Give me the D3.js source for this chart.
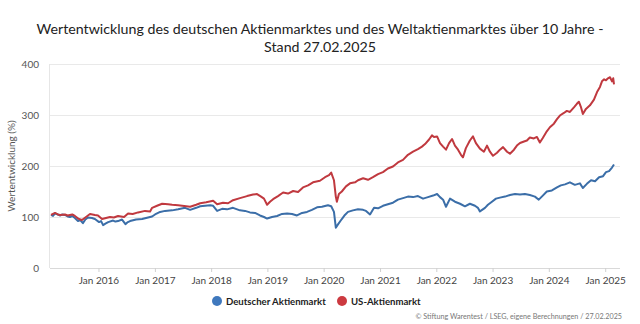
<!DOCTYPE html>
<html><head><meta charset="utf-8">
<script src="https://cdn.jsdelivr.net/npm/d3@7"></script>
<style>body{margin:0;background:#fff} svg{display:block}</style>
</head><body>
<svg id="chart" width="640" height="324"></svg>
<script>
const titleLines = ["Wertentwicklung des deutschen Aktienmarktes und des Weltaktienmarktes über 10 Jahre -", "Stand 27.02.2025"];
const yAxisLabel = "Wertentwicklung (%)";
const seriesNames = ["Deutscher Aktienmarkt", "US-Aktienmarkt"];
const seriesColors = ["#3b6ea8", "#c0393f"];
const yTicks = [0, 100, 200, 300, 400];
const xTickDates = ["2016-01-01","2017-01-01","2018-01-01","2019-01-01","2020-01-01","2021-01-01","2022-01-01","2023-01-01","2024-01-01","2025-01-01"];
const xTickLabels = ["Jan 2016","Jan 2017","Jan 2018","Jan 2019","Jan 2020","Jan 2021","Jan 2022","Jan 2023","Jan 2024","Jan 2025"];
const credit = "© Stiftung Warentest / LSEG, eigene Berechnungen / 27.02.2025";

const deData = [
["2015-02-27",104],["2015-03-12",102],["2015-03-25",107],["2015-04-12",105],["2015-04-27",103],["2015-05-12",105],["2015-05-29",104],["2015-06-15",101],["2015-06-30",100],["2015-07-15",102],["2015-08-01",98],["2015-08-21",92],["2015-09-05",94],["2015-09-22",88],["2015-10-08",95],["2015-10-25",99],["2015-11-20",98],["2015-12-09",96],["2016-01-05",90],["2016-01-18",92],["2016-01-31",84],["2016-02-15",87],["2016-03-04",90],["2016-04-05",93],["2016-04-20",91],["2016-05-07",92],["2016-06-02",95],["2016-06-24",86],["2016-07-10",90],["2016-07-24",92],["2016-09-01",95],["2016-10-10",96],["2016-11-18",99],["2016-12-14",101],["2017-01-02",105],["2017-02-04",110],["2017-03-08",112],["2017-04-23",113],["2017-06-01",115],["2017-07-16",118],["2017-08-18",114],["2017-09-26",118],["2017-10-22",121],["2017-11-23",122],["2017-12-26",123],["2018-01-14",122],["2018-02-09",112],["2018-03-13",116],["2018-04-14",115],["2018-05-23",118],["2018-07-07",113],["2018-08-09",112],["2018-09-10",109],["2018-10-13",108],["2018-11-14",103],["2018-12-10",100],["2018-12-30",97],["2019-01-31",100],["2019-03-05",102],["2019-04-06",106],["2019-05-09",107],["2019-06-10",106],["2019-07-12",103],["2019-08-14",108],["2019-09-15",110],["2019-10-17",114],["2019-11-19",119],["2019-12-21",120],["2020-01-29",123],["2020-02-19",121],["2020-03-08",110],["2020-03-20",79],["2020-04-02",85],["2020-04-28",96],["2020-05-18",104],["2020-06-07",110],["2020-07-09",113],["2020-08-11",115],["2020-09-13",114],["2020-10-02",112],["2020-10-28",105],["2020-11-23",118],["2020-12-19",117],["2021-01-20",122],["2021-02-21",125],["2021-03-26",128],["2021-04-27",134],["2021-05-30",137],["2021-07-01",140],["2021-08-03",139],["2021-09-04",141],["2021-10-07",136],["2021-11-08",139],["2021-12-11",142],["2022-01-06",145],["2022-01-25",139],["2022-02-14",134],["2022-03-05",120],["2022-03-31",136],["2022-05-02",130],["2022-06-04",126],["2022-07-06",121],["2022-08-07",126],["2022-09-09",122],["2022-09-28",118],["2022-10-11",111],["2022-11-13",118],["2022-12-02",124],["2022-12-28",130],["2023-01-23",136],["2023-02-18",138],["2023-03-23",140],["2023-04-24",143],["2023-05-27",145],["2023-06-28",144],["2023-07-30",145],["2023-08-31",143],["2023-10-03",140],["2023-10-28",134],["2023-11-23",142],["2023-12-19",150],["2024-01-21",152],["2024-02-23",158],["2024-03-19",162],["2024-04-15",164],["2024-05-17",168],["2024-06-18",163],["2024-07-21",166],["2024-08-09",157],["2024-09-04",165],["2024-10-01",172],["2024-10-27",170],["2024-11-22",178],["2024-12-18",180],["2025-01-06",188],["2025-01-26",190],["2025-02-14",197],["2025-02-27",203]
];

const usData = [
["2015-02-27",104],["2015-03-12",106],["2015-03-25",108],["2015-04-12",105],["2015-04-27",104],["2015-05-29",105],["2015-06-15",103],["2015-06-30",104],["2015-07-15",105],["2015-08-01",102],["2015-08-27",96],["2015-09-16",94],["2015-10-12",100],["2015-11-07",106],["2015-12-09",104],["2015-12-29",103],["2016-01-24",96],["2016-02-19",98],["2016-03-16",100],["2016-04-10",99],["2016-05-07",102],["2016-06-15",100],["2016-07-11",107],["2016-08-10",106],["2016-09-14",109],["2016-10-29",112],["2016-12-01",111],["2016-12-14",118],["2017-01-15",122],["2017-02-17",126],["2017-03-28",125],["2017-04-23",124],["2017-06-01",123],["2017-06-27",122],["2017-08-18",120],["2017-09-26",124],["2017-10-22",127],["2017-11-30",129],["2018-01-14",132],["2018-02-09",125],["2018-03-19",128],["2018-04-21",127],["2018-05-23",133],["2018-07-07",137],["2018-08-22",141],["2018-09-30",144],["2018-10-26",145],["2018-11-21",140],["2018-12-10",136],["2018-12-30",124],["2019-01-18",130],["2019-02-07",135],["2019-03-11",141],["2019-04-13",148],["2019-05-15",146],["2019-06-17",151],["2019-07-19",149],["2019-08-20",158],["2019-09-22",162],["2019-10-24",168],["2019-12-08",171],["2020-01-10",178],["2020-02-05",182],["2020-02-19",187],["2020-03-08",172],["2020-03-20",140],["2020-03-27",130],["2020-04-09",145],["2020-04-28",150],["2020-05-25",160],["2020-06-20",166],["2020-07-23",168],["2020-08-11",172],["2020-09-13",176],["2020-10-15",173],["2020-11-16",178],["2020-12-19",184],["2021-01-20",188],["2021-02-21",195],["2021-03-26",199],["2021-04-27",207],["2021-05-30",212],["2021-07-01",222],["2021-08-03",228],["2021-09-04",233],["2021-09-30",238],["2021-10-20",243],["2021-11-15",252],["2021-12-04",260],["2021-12-17",257],["2022-01-06",258],["2022-01-25",245],["2022-02-14",238],["2022-03-05",232],["2022-03-25",245],["2022-04-13",253],["2022-05-02",240],["2022-05-22",232],["2022-06-10",222],["2022-06-23",217],["2022-07-12",235],["2022-08-07",250],["2022-08-27",258],["2022-09-15",245],["2022-10-11",234],["2022-11-06",228],["2022-11-26",240],["2022-12-15",228],["2023-01-04",220],["2023-01-30",226],["2023-02-18",232],["2023-03-10",237],["2023-04-05",228],["2023-04-24",224],["2023-05-20",232],["2023-06-08",240],["2023-06-28",245],["2023-07-24",248],["2023-08-12",250],["2023-08-31",256],["2023-09-26",254],["2023-10-16",257],["2023-11-04",246],["2023-11-23",255],["2023-12-19",268],["2024-01-08",276],["2024-02-03",283],["2024-02-23",292],["2024-03-13",299],["2024-04-08",304],["2024-04-27",308],["2024-05-17",306],["2024-06-12",315],["2024-07-01",322],["2024-07-14",326],["2024-07-27",316],["2024-08-09",302],["2024-08-29",312],["2024-09-24",319],["2024-10-20",330],["2024-11-09",345],["2024-11-28",355],["2024-12-11",366],["2024-12-25",370],["2025-01-06",368],["2025-01-19",372],["2025-02-01",374],["2025-02-14",366],["2025-02-22",372],["2025-02-27",360]
];

const svg = d3.select("#chart");
const parse = d3.timeParse("%Y-%m-%d");
const x = d3.scaleTime().domain([parse("2015-02-27"), parse("2025-02-27")]).range([51, 614]);
const y = d3.scaleLinear().domain([0, 400]).range([268, 64]);
const plotLeft = 50, plotRight = 620;
const font = "Lato, 'Open Sans', sans-serif";

svg.append("g").selectAll("line").data(yTicks).join("line")
  .attr("x1", plotLeft).attr("x2", plotRight)
  .attr("y1", d => y(d) + 0.5).attr("y2", d => y(d) + 0.5)
  .attr("stroke", d => d === 0 ? "#d9d9d9" : "#e9e9e9").attr("stroke-width", 1);
svg.append("line").attr("x1", plotLeft - 0.5).attr("x2", plotLeft - 0.5)
  .attr("y1", y(400)).attr("y2", y(0)).attr("stroke", "#e6e6e6");

svg.append("g").selectAll("text").data(yTicks).join("text")
  .attr("x", 39).attr("y", d => y(d) + 3.5).attr("text-anchor", "end")
  .attr("font-family", font).attr("font-size", 10).attr("fill", "#555")
  .text(d => d);

svg.append("text").attr("transform", `translate(15,${(y(0)+y(400))/2}) rotate(-90)`)
  .attr("text-anchor", "middle").attr("font-family", font).attr("font-size", 10)
  .attr("fill", "#555").text(yAxisLabel);

const xAxis = d3.axisBottom(x).tickValues(xTickDates.map(parse))
  .tickFormat((d, i) => xTickLabels[i]).tickSize(4).tickSizeOuter(0);
const gx = svg.append("g").attr("transform", `translate(0,${y(0)})`).call(xAxis);
gx.select(".domain").remove();
gx.selectAll(".tick line").attr("stroke", "#d0d0d0");
gx.selectAll(".tick text").attr("font-family", font).attr("font-size", 10).attr("fill", "#444").attr("dy", "0.9em");

const line = d3.line().x(d => x(parse(d[0]))).y(d => y(d[1]));
[deData, usData].forEach((data, i) => {
  svg.append("path").datum(data).attr("d", line).attr("fill", "none")
    .attr("stroke", seriesColors[i]).attr("stroke-width", 2).attr("stroke-linejoin", "round");
});

const tg = svg.append("g");
titleLines.forEach((t, i) => {
  tg.append("text").attr("x", 320).attr("y", 34 + i * 17.5).attr("text-anchor", "middle")
    .attr("font-family", font).attr("font-size", 15.5).attr("fill", "#222").text(t);
});
const t0 = tg.select("text").node();
const w = t0.getComputedTextLength();
const fs = 15.5 * 567 / w;
tg.selectAll("text").attr("font-size", fs);

const legendItems = [{x: 217, name: seriesNames[0], color: "#3f78bd"}, {x: 342, name: seriesNames[1], color: "#cc3a40"}];
const lg = svg.append("g");
legendItems.forEach(d => {
  lg.append("circle").attr("cx", d.x).attr("cy", 301).attr("r", 5).attr("fill", d.color);
  lg.append("text").attr("x", d.x + 9).attr("y", 304.5).attr("font-family", font)
    .attr("font-size", 9.6).attr("font-weight", "bold").attr("fill", "#222").text(d.name);
});

svg.append("text").attr("x", 622).attr("y", 319).attr("text-anchor", "end")
  .attr("font-family", font).attr("font-size", 7.2).attr("fill", "#777").text(credit);
</script>
</body></html>
